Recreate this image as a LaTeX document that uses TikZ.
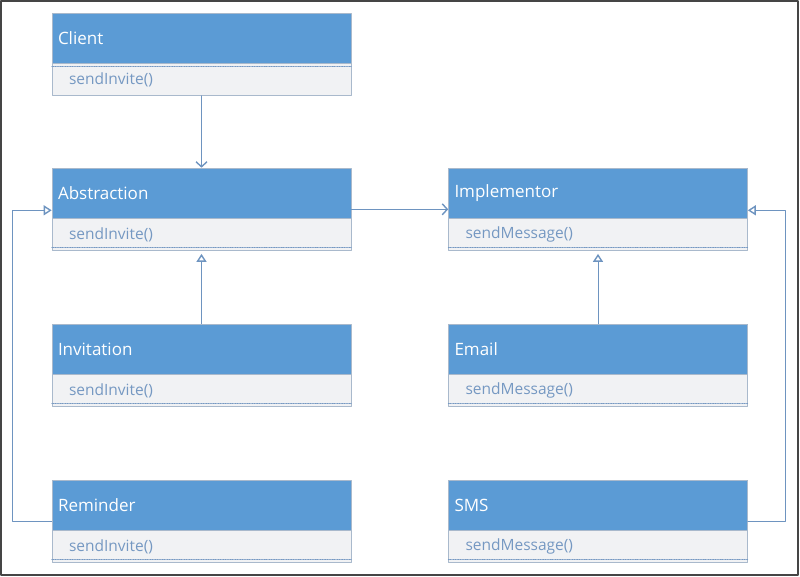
\documentclass[tikz,border=0pt]{standalone}
\usepackage{fontspec}
\setmainfont{Open Sans}
\usetikzlibrary{positioning, arrows.meta}

\definecolor{headblue}{HTML}{5B9BD5}
\definecolor{bodygray}{HTML}{F1F2F4}
\definecolor{methblue}{HTML}{7598C2}
\definecolor{boxline}{HTML}{A9B9CC}
\definecolor{linkblue}{HTML}{6E94C0}
\definecolor{framegray}{HTML}{454545}

\tikzset{
  classhead/.style={rectangle, draw=boxline, line width=0.6pt, fill=headblue, text=white,
    minimum width=299pt, minimum height=50pt, text width=287pt, inner xsep=6pt,
    align=left, font=\fontsize{17}{20}\selectfont},
  classbody/.style={rectangle, draw=boxline, line width=0.6pt, fill=bodygray, text=methblue,
    minimum width=299pt, minimum height=32pt, text width=265pt, inner xsep=17pt,
    align=left, font=\fontsize{15.5}{18}\selectfont},
  sepline/.style={draw=methblue, densely dotted, line width=0.7pt},
  assoc/.style={draw=linkblue, line width=0.9pt,
    -{Straight Barb[length=5pt, width=11pt, line width=1.4pt]}},
  inherit/.style={draw=linkblue, line width=0.9pt,
    -{Triangle[open, length=8pt, width=10pt, line width=1.4pt]}},
}

\begin{document}
\begin{tikzpicture}[x=1pt, y=-1pt, line cap=round, line join=round]

        % Frame
        \useasboundingbox (0,0) rectangle (800,577);
        \draw[framegray, line width=1.5pt] (1,1) rectangle (798,575);

        % Classes: header and method compartment
        \foreach \nm/\cx/\cy/\title/\meth in {
            client/201.5/38/Client/sendInvite(),
            abs/201.5/193/Abstraction/sendInvite(),
            inv/201.5/349/Invitation/sendInvite(),
            rem/201.5/505/Reminder/sendInvite(),
            impl/598/193/Implementor/sendMessage(),
            email/598/349/Email/sendMessage(),
            sms/598/505/SMS/sendMessage()} {
          \node[classhead] (\nm) at (\cx,\cy) {\title};
          \node[classbody, below=0pt of \nm] (\nm-b) {\meth};
        }

        % Separators
        \draw[sepline] ([yshift=-3pt]client-b.north west) -- ([yshift=-3pt]client-b.north east);
        \foreach \nm in {abs, inv, rem, impl, email, sms}
          \draw[sepline] ([yshift=4pt]\nm-b.south west) -- ([yshift=4pt]\nm-b.south east);

        % Associations
        \draw[assoc] (client-b) -- (abs);
        \draw[assoc] ([yshift=9pt]abs.south east) -- ([yshift=9pt]impl.south west);

        % Generalisations
        \draw[inherit] (inv) -- ([yshift=-3pt]abs-b.south);
        \draw[inherit] ([yshift=9pt]rem.south west) -- ++(-39,0) |- ([yshift=8pt]abs.south west);
        \draw[inherit] (email) -- ([yshift=-3pt]impl-b.south);
        \draw[inherit] ([yshift=9pt]sms.south east) -- ++(38,0) |- ([yshift=8pt]impl.south east);

    \end{tikzpicture}
\end{document}
